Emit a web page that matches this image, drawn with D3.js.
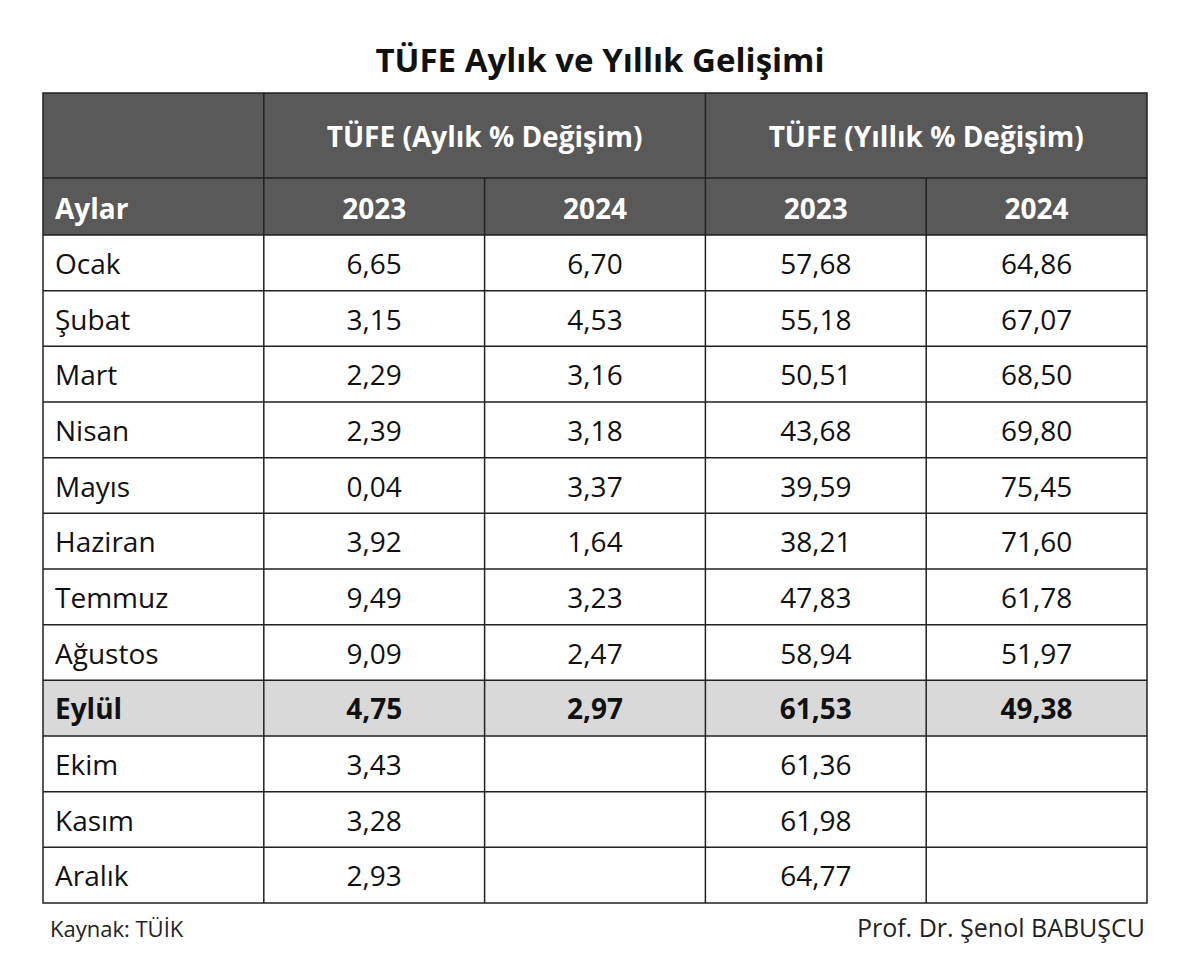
<!DOCTYPE html>
<html><head><meta charset="utf-8">
<script src="https://cdn.jsdelivr.net/npm/d3@7"></script>
<style>body{margin:0;background:#fff}</style></head>
<body><svg id="c" width="1200" height="966"></svg>
<script>
const title = "TÜFE Aylık ve Yıllık Gelişimi";
const groupHeaders = ["TÜFE (Aylık % Değişim)", "TÜFE (Yıllık % Değişim)"];
const subHeaders = ["Aylar", "2023", "2024", "2023", "2024"];
const months = ["Ocak","Şubat","Mart","Nisan","Mayıs","Haziran","Temmuz","Ağustos","Eylül","Ekim","Kasım","Aralık"];
const monthly2023 = ["6,65","3,15","2,29","2,39","0,04","3,92","9,49","9,09","4,75","3,43","3,28","2,93"];
const monthly2024 = ["6,70","4,53","3,16","3,18","3,37","1,64","3,23","2,47","2,97","","",""];
const annual2023 = ["57,68","55,18","50,51","43,68","39,59","38,21","47,83","58,94","61,53","61,36","61,98","64,77"];
const annual2024 = ["64,86","67,07","68,50","69,80","75,45","71,60","61,78","51,97","49,38","","",""];
const highlight = "Eylül";
const source = "Kaynak: TÜİK";
const author = "Prof. Dr. Şenol BABUŞCU";

const svg = d3.select("#c");
const F = "'Open Sans', sans-serif";
const L = 43, R = 1147;
const x = d3.scaleBand().domain(d3.range(5)).range([L, R]);
const y = d3.scaleBand().domain(months).range([235, 903]);
const cw = x.bandwidth();

svg.append("text").attr("x", 600).attr("y", 72).attr("text-anchor","middle")
  .attr("font-family",F).attr("font-weight","bold").attr("font-size",33).attr("fill","#111").text(title);

svg.append("rect").attr("x",L).attr("y",93).attr("width",R-L).attr("height",142).attr("fill","#595959");
groupHeaders.forEach((g,i)=>{
  svg.append("text").attr("x", x(1+2*i)+cw).attr("y",147).attr("text-anchor","middle")
    .attr("font-family",F).attr("font-weight","bold").attr("font-size",28).attr("fill","#fff").text(g);
});
subHeaders.forEach((s,i)=>{
  svg.append("text").attr("x", i===0 ? L+12 : x(i)+cw/2).attr("y",219)
    .attr("text-anchor", i===0?"start":"middle")
    .attr("font-family",F).attr("font-weight","bold").attr("font-size",28).attr("fill","#fff").text(s);
});

const rows = months.map((m,i)=>[m, monthly2023[i], monthly2024[i], annual2023[i], annual2024[i]]);
rows.forEach(r=>{
  const hl = r[0]===highlight;
  if (hl) svg.append("rect").attr("x",L).attr("y",y(r[0])).attr("width",R-L).attr("height",y.bandwidth()).attr("fill","#d9d9d9");
  r.forEach((v,i)=>{
    svg.append("text").attr("x", i===0 ? L+12 : x(i)+cw/2).attr("y", y(r[0])+y.bandwidth()/2+11)
      .attr("text-anchor", i===0?"start":"middle")
      .attr("font-family",F).attr("font-weight",hl?"bold":"normal").attr("font-size",28).attr("fill","#111").text(v);
  });
});

const g = svg.append("g").attr("stroke","#222").attr("stroke-width",1.5).attr("fill","none");
g.append("rect").attr("x",L).attr("y",93).attr("width",R-L).attr("height",903-93);
[178,235].concat(months.slice(1).map(m=>y(m))).forEach(yy=>{
  g.append("line").attr("x1",L).attr("x2",R).attr("y1",yy).attr("y2",yy);
});
[1,3].forEach(i=>g.append("line").attr("x1",x(i)).attr("x2",x(i)).attr("y1",93).attr("y2",903));
[2,4].forEach(i=>g.append("line").attr("x1",x(i)).attr("x2",x(i)).attr("y1",178).attr("y2",903));

svg.append("text").attr("x",50).attr("y",937).attr("font-family",F).attr("font-size",22).attr("fill","#222").text(source);
svg.append("text").attr("x",1145).attr("y",937).attr("text-anchor","end").attr("font-family",F).attr("font-size",25).attr("fill","#222").text(author);
</script></body></html>
